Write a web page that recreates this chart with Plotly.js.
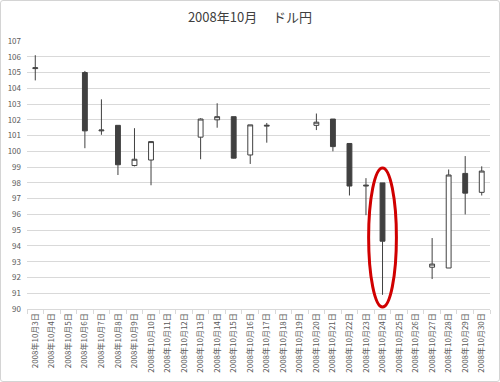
<!DOCTYPE html>
<html>
<head>
<meta charset="utf-8">
<script src="https://cdn.plot.ly/plotly-3.0.1.min.js"></script>
<style>
  html, body { margin: 0; padding: 0; background: #fff; }
  #wrap { position: relative; width: 500px; height: 382px; }
  #chart { width: 500px; height: 382px; }
  #frame { position: absolute; left: 0; top: 0; width: 500px; height: 382px; box-sizing: border-box;
           border: 1px solid #d4d4d4; border-radius: 3px; pointer-events: none; }
</style>
</head>
<body>
<div id="wrap"><div id="chart"></div><div id="frame"></div></div>
<script>
const days = [3,4,5,6,7,8,9,10,11,12,13,14,15,16,17,18,19,20,21,22,23,24,25,26,27,28,29,30];
const categories = days.map(d => '2008年10月' + d + '日');
const openV  = [105.25, null, null, 105.0, 101.3, 101.65, 99.1, 99.45, null, null, 100.9, 102.0, 102.2, 99.77, 101.6, null, null, 101.65, 102.05, 100.5, 97.8, 98.0, null, null, 92.65, 92.6, 98.6, 97.4];
const highV  = [106.1, null, null, 105.1, 103.3, 101.65, 101.47, 100.65, null, null, 102.1, 103.05, 102.2, 101.68, 101.8, null, null, 102.4, 102.05, 100.5, 98.3, 98.0, null, null, 94.5, 98.85, 99.7, 99.05];
const lowV   = [104.5, null, null, 100.2, 101.05, 98.5, 99.05, 97.85, null, null, 99.5, 101.5, 99.55, 99.2, 100.55, null, null, 101.35, 100.0, 97.2, 95.95, 90.9, null, null, 91.9, 92.6, 96.0, 97.2];
const closeV = [105.3, null, null, 101.3, 101.35, 99.15, 99.5, 100.62, null, null, 102.05, 102.2, 99.57, 101.68, 101.65, null, null, 101.85, 100.3, 97.8, 97.85, 94.3, null, null, 92.85, 98.5, 97.35, 98.75];
const highlightDate = '2008年10月24日';
const titleText = '2008年10月\u3000\u00a0ドル円';

const trace = {
  type: 'candlestick',
  x: categories,
  open: openV, high: highV, low: lowV, close: closeV,
  increasing: { line: { color: '#404040', width: 1 }, fillcolor: '#ffffff' },
  decreasing: { line: { color: '#404040', width: 1 }, fillcolor: '#404040' },
  whiskerwidth: 0,
  showlegend: false,
  hoverinfo: 'none'
};

const hi = categories.indexOf(highlightDate);

const layout = {
  width: 500, height: 382,
  margin: { l: 27, r: 10, t: 41, b: 73 },
  paper_bgcolor: '#ffffff', plot_bgcolor: '#ffffff',
  font: { family: '"Noto Sans CJK JP", "Noto Sans", sans-serif', color: '#595959', size: 8 },
  title: { text: titleText, x: 0.5, xanchor: 'center', y: 0.955, yanchor: 'middle',
           font: { family: '"Noto Sans CJK JP", sans-serif', size: 13, color: '#404040' } },
  boxgap: 0.58,
  xaxis: {
    type: 'category', categoryorder: 'array', categoryarray: categories,
    range: [-0.5, categories.length - 0.5],
    rangeslider: { visible: false },
    tickangle: -90, tickfont: { size: 8, color: '#595959' },
    ticks: 'outside', tickson: 'boundaries', ticklen: 4, tickcolor: '#d9d9d9',
    showline: true, linecolor: '#d9d9d9', linewidth: 1,
    showgrid: false, fixedrange: true
  },
  yaxis: {
    range: [90, 107], dtick: 1, tick0: 90,
    showgrid: true, gridcolor: '#d9d9d9', gridwidth: 1,
    zeroline: false, showline: false, ticks: '',
    ticklabelstandoff: 5,
    tickfont: { size: 8, color: '#595959' }, fixedrange: true
  },
  shapes: [{
    type: 'circle', xref: 'x', yref: 'y',
    x0: hi - 0.84, x1: hi + 0.84, y0: 90.13, y1: 98.95,
    line: { color: '#d00000', width: 3 }, fillcolor: 'rgba(0,0,0,0)'
  }]
};

Plotly.newPlot('chart', [trace], layout, { displayModeBar: false, staticPlot: true });
</script>
</body>
</html>
